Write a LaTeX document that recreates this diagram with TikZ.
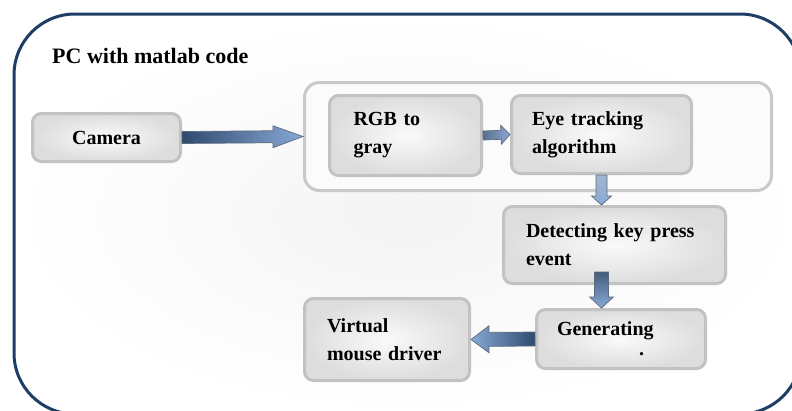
\documentclass[tikz,border=0pt]{standalone}
\usepackage{fontspec}
\setmainfont{Liberation Serif}
\usetikzlibrary{calc}

\definecolor{frameblue}{HTML}{1F3E66}
\definecolor{boxline}{HTML}{C2C2C2}
\definecolor{boxfill}{HTML}{DDDDDD}
\definecolor{grpline}{HTML}{C9C9C9}
\definecolor{arrowdark}{HTML}{2F4A6E}
\definecolor{arrowlight}{HTML}{88A9D6}
\definecolor{arrowpale}{HTML}{A2B6CF}
\definecolor{arrowedge}{HTML}{5E6B7A}

% fat block arrow from (start) to (tip), (half shaft : half head : head length)
\def\fatarrow[#1](#2)(#3)(#4:#5:#6){%
	\coordinate (fa-s) at (#2);
	\coordinate (fa-t) at (#3);
	\coordinate (fa-h) at ($(fa-t)!#6!(fa-s)$);
	\draw[#1] ($(fa-s)!#4!90:(fa-t)$) -- ($(fa-h)!#4!90:(fa-t)$) -- ($(fa-h)!#5!90:(fa-t)$) -- (fa-t)
		-- ($(fa-h)!#5!-90:(fa-t)$) -- ($(fa-h)!#4!-90:(fa-t)$) -- ($(fa-s)!#4!-90:(fa-t)$) -- cycle;}

\tikzset{
	block/.style={draw=boxline, line width=3pt, rounded corners=9pt, inner color=white!96!gray, outer color=boxfill,
		font=\fontsize{20}{28}\selectfont\bfseries, inner sep=0pt, align=left},
	group/.style={draw=grpline, line width=3pt, rounded corners=15pt, fill=white!97!gray},
	fat/.style={draw=arrowedge, line width=0.7pt},
}

\begin{document}
\begin{tikzpicture}[x=1pt, y=-1pt]
		%%%%% START %%%%%
		\useasboundingbox (0,0) rectangle (792,410);
		\clip (0,0) rectangle (792,410);
		
		% outer frame
		\draw[frameblue, line width=3pt, rounded corners=61pt, inner color=gray!9, outer color=white] (14,14) rectangle (801,414);
		\node[font=\fontsize{22}{26}\selectfont\bfseries, anchor=base west, inner sep=0pt] (title) at (52,63) {PC with matlab code};
		
		% processing group
		\node[group, minimum width=467pt, minimum height=108pt] (grp) at (538,136.5) {};
		
		\node[block, minimum width=148pt, minimum height=48pt, align=center] (cam) at (106.5,137.5) {Camera};
		\node[block, minimum width=152pt, minimum height=80pt, text width=104pt] (rgb) at (405.5,135.5) {RGB to\\gray};
		\node[block, minimum width=180pt, minimum height=78pt, text width=139pt] (eye) at (601.5,134.5) {Eye tracking\\algorithm};
		\node[block, minimum width=222pt, minimum height=77pt, text width=177pt] (det) at (614.5,245) {Detecting key press\\event};
		\node[block, minimum width=169pt, minimum height=59pt, text width=128pt] (gen) at (621,339) {Generating\\[-8pt]\hspace*{82pt}.};
		\node[block, minimum width=165pt, minimum height=82pt, text width=120pt] (vmd) at (387,339.5) {Virtual\\mouse driver};
		
		% arrows
		\coordinate (eyefoot) at (eye.south);
		\coordinate (dettip) at (eye.south |- det.north);
		\coordinate (detfoot) at ($(det.south -| eye.south)+(0,-13)$);
		\coordinate (gentip) at (eye.south |- gen.north);
		
		\fatarrow[fat, left color=arrowdark, right color=arrowlight](cam.east)(grp.west)(6pt:11pt:30pt);
		\fatarrow[fat, left color=arrowdark!80, right color=arrowlight](rgb.east)(eye.west)(4.5pt:9.5pt:9pt);
		\fatarrow[fat, top color=arrowpale, bottom color=arrowlight](eyefoot)(dettip)(5.5pt:10pt:9pt);
		\fatarrow[fat, top color=arrowdark!90, bottom color=arrowlight](detfoot)(gentip)(7pt:12pt:11pt);
		\fatarrow[fat, left color=arrowlight, right color=arrowdark](gen.west)(vmd.east)(7pt:13.5pt:18pt);
		
		%%%%% END %%%%%
\end{tikzpicture}
\end{document}
